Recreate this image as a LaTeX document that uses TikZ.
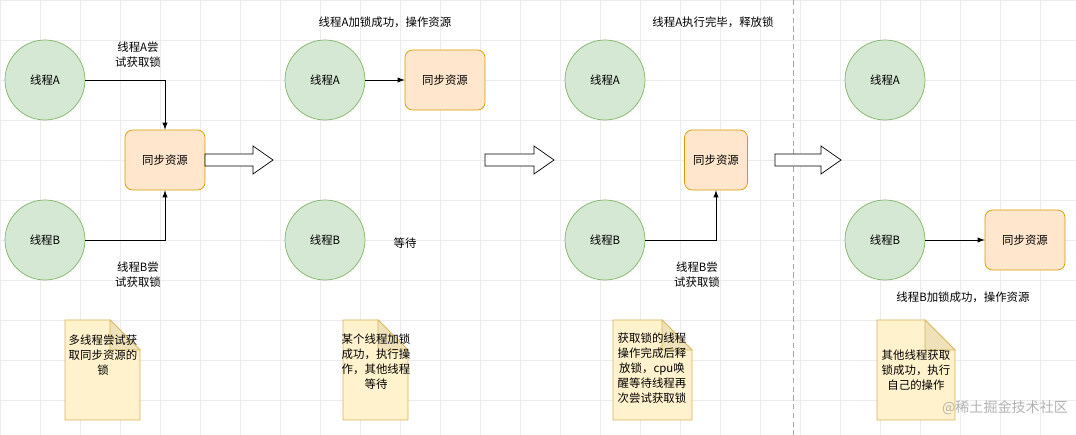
\documentclass[tikz,border=0pt]{standalone}
\usepackage{fontspec}
\setmainfont{Noto Sans CJK SC}
\definecolor{thrfill}{HTML}{D5E8D4}
\definecolor{thrline}{HTML}{82B366}
\definecolor{resfill}{HTML}{FFE6CC}
\definecolor{resline}{HTML}{D79B00}
\definecolor{notefill}{HTML}{FFF2CC}
\definecolor{noteline}{HTML}{D6B656}
\newcommand{\notebox}[5]{% x1 y1 x2 y2 name
  \fill[notefill,draw=noteline] (#1,#2) -- (#3-30,#2) -- (#3,#2+30) -- (#3,#4) -- (#1,#4) -- cycle;
  \fill[noteline!40,draw=noteline] (#3-30,#2) -- (#3-30,#2+30) -- (#3,#2+30) -- cycle;
  \coordinate (#5) at ({(#1+#3)/2},{(#2+#4)/2});}
\newcommand{\bigarrow}[3]{% x1 x2 y
  \draw[fill=white] (#1,#3-6) -- (#2-20,#3-6) -- (#2-20,#3-14) -- (#2,#3) -- (#2-20,#3+14) -- (#2-20,#3+6) -- (#1,#3+6) -- cycle;}
\begin{document}
\begin{tikzpicture}[x=0.02cm,y=-0.02cm,font=\fontsize{6.5}{8.5}\selectfont,
% common options for threads:
thread/.style = {circle, draw=thrline, fill=thrfill, minimum size=1.6cm, inner sep=0},
% common options for the resource:
res/.style = {draw=resline, fill=resfill, rounded corners=1.5mm, minimum width=1.6cm, minimum height=1.2cm},
lbl/.style = {align=center}]
\useasboundingbox (0,0) rectangle (1076,435);
\foreach \gx in {0,40,...,1076} \draw[gray!15] (\gx,0) -- (\gx,435);
\foreach \gy in {0,40,...,435} \draw[gray!15] (0,\gy) -- (1076,\gy);
\draw[gray!70,dash pattern=on 3pt off 2pt] (793,0) -- (793,435);
% panel 1
\node[thread] (A1) at (45,80) {线程A};
\node[thread] (B1) at (45,240) {线程B};
\node[res] (R1) at (165,160) {同步资源};
\draw[-latex] (A1.east) -| (R1.north);
\draw[-latex] (B1.east) -| (R1.south);
\node[lbl] (LA1) at (138,55) {线程A尝\\试获取锁};
\node[lbl] (LB1) at (138,275) {线程B尝\\试获取锁};
\bigarrow{205}{273}{160}
% panel 2
\node[thread] (A2) at (325,80) {线程A};
\node[thread] (B2) at (325,240) {线程B};
\node[res] (R2) at (445,80) {同步资源};
\draw[-latex] (A2.east) -- (R2.west);
\node (T2) at (385,22) {线程A加锁成功，操作资源};
\node (W2) at (405,243) {等待};
\bigarrow{485}{554}{160}
% panel 3
\node[thread] (A3) at (605,80) {线程A};
\node[thread] (B3) at (605,240) {线程B};
\node[res, minimum width=1.26cm] (R3) at (716,160) {同步资源};
\draw[-latex] (B3.east) -| (R3.south);
\node[lbl] (LB3) at (697,275) {线程B尝\\试获取锁};
\node (T3) at (713,22) {线程A执行完毕，释放锁};
\bigarrow{775}{841}{160}
% panel 4
\node[thread] (A4) at (885,80) {线程A};
\node[thread] (B4) at (885,240) {线程B};
\node[res] (R4) at (1025,240) {同步资源};
\draw[-latex] (B4.east) -- (R4.west);
\node (T4) at (963,297) {线程B加锁成功，操作资源};
% notes
\notebox{65}{320}{140}{420}{N1}
\node[lbl] (n1) at (103,355) {多线程尝试获\\取同步资源的\\锁};
\notebox{343}{320}{408}{420}{N2}
\node[lbl] (n2) at (376,362) {某个线程加锁\\成功，执行操\\作，其他线程\\等待};
\notebox{613}{320}{692}{420}{N3}
\node[lbl] (n3) at (652,368) {获取锁的线程\\操作完成后释\\放锁，cpu唤\\醒等待线程再\\次尝试获取锁};
\notebox{877}{320}{955}{420}{N4}
\node[lbl] (n4) at (916,370) {其他线程获取\\锁成功，执行\\自己的操作};
\node[gray!60,font=\fontsize{8}{9}\selectfont] (wm) at (1005,408) {@稀土掘金技术社区};
\end{tikzpicture}
\end{document}
